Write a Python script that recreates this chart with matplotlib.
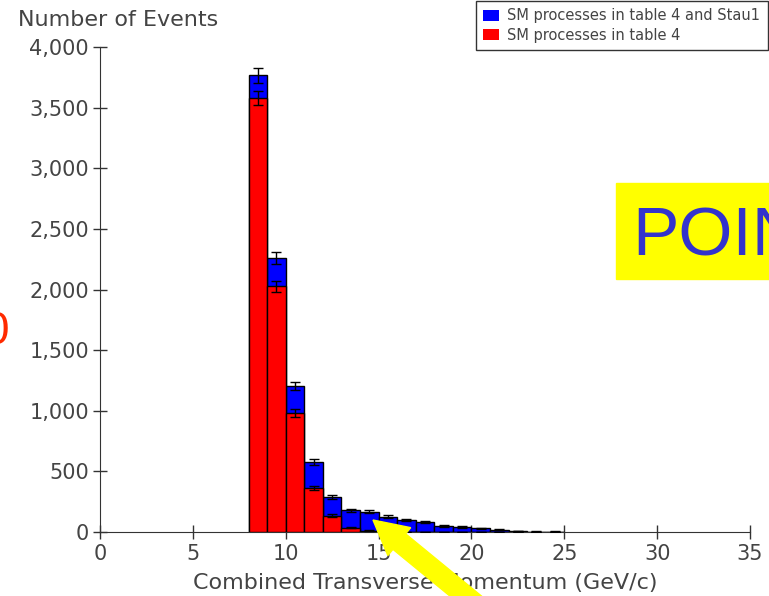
import numpy as np
import matplotlib.pyplot as plt
from matplotlib.patches import Rectangle, FancyArrow, Patch
from matplotlib.ticker import FuncFormatter
from matplotlib.transforms import IdentityTransform

# histogram bins (GeV/c), 1 GeV/c wide
bin_lo = [8, 9, 10, 11, 12, 13, 14, 15, 16, 17, 18, 19, 20, 21, 22, 23, 24]
sm_stau = [3765, 2258, 1205, 578, 291, 178, 166, 125, 99, 80, 52, 40, 30, 20, 8, 4, 3]
sm_only = [3580, 2025, 980, 362, 134, 36, 10, 2, 1, 1, 0, 0, 0, 0, 0, 0, 0]

label_stau = 'SM processes in table 4 and Stau1'
label_sm = 'SM processes in table 4'

W, H = 769, 596
fig = plt.figure(figsize=(W / 100, H / 100), dpi=100)
ax = fig.add_axes([100 / W, 1 - 532 / H, 650 / W, 485 / H])

txt = '#444444'
lo = np.array(bin_lo, dtype=float)
tot = np.array(sm_stau, dtype=float)
sm = np.array(sm_only, dtype=float)
mid = lo + 0.5

ax.bar(lo, tot, width=1, align='edge', color='#0000ff', edgecolor='black', linewidth=1, zorder=2)
ax.bar(lo, sm, width=1, align='edge', color='#ff0000', edgecolor='black', linewidth=1, zorder=3)
ax.errorbar(mid, tot, yerr=np.sqrt(tot), fmt='none', ecolor='black', elinewidth=1, capsize=3.5, zorder=4)
ax.errorbar(mid, sm, yerr=np.sqrt(sm), fmt='none', ecolor='black', elinewidth=1, capsize=3.5, zorder=4)

ax.set_xlim(0, 35)
ax.set_ylim(0, 4000)
ax.set_xticks(range(0, 36, 5))
ax.set_yticks(range(0, 4001, 500))
ax.yaxis.set_major_formatter(FuncFormatter(lambda v, p: f'{v:,.0f}'))
for s in ['top', 'right']:
    ax.spines[s].set_visible(False)
for s in ['left', 'bottom']:
    ax.spines[s].set_color('#333333')
ax.tick_params(direction='inout', length=10, width=1, color='#333333',
               labelsize=15, labelcolor=txt)
ax.tick_params(axis='x', pad=4)
ax.tick_params(axis='y', pad=3)
ax.set_xlabel('Combined Transverse Momentum (GeV/c)', fontsize=16, color=txt, labelpad=6)
fig.text(18 / W, 1 - 20 / H, 'Number of Events', fontsize=16, color=txt, va='center')

handles = [Patch(facecolor='#0000ff', edgecolor='none'), Patch(facecolor='#ff0000', edgecolor='none')]
leg = fig.legend(handles, [label_stau, label_sm], loc='upper left',
                 bbox_to_anchor=(476 / W, 1 - 1 / H), fontsize=10.5, frameon=True,
                 fancybox=False, borderaxespad=0, borderpad=0.5, labelspacing=0.3,
                 handlelength=1.1, handleheight=0.8, handletextpad=0.55)
leg.get_frame().set_edgecolor('black')
leg.get_frame().set_linewidth(1)
for t in leg.get_texts():
    t.set_color(txt)

# yellow callout on the right, cut at the figure edge
fig.add_artist(Rectangle((616 / W, 1 - 279 / H), 0.3, 96 / H,
                         transform=fig.transFigure, color='#ffff00', zorder=5))
fig.text(632 / W, 1 - 255 / H, 'POINT', fontsize=50, color='#3333cc',
         family='Liberation Sans', va='baseline', zorder=6)

# clipped red character on the left edge
fig.text(9 / W, 1 - 344 / H, '0', fontsize=33, color='#ff2a00',
         family='Liberation Sans', ha='right', va='baseline')

# yellow arrow pointing at the 14-15 GeV/c bin
fig.add_artist(FancyArrow(490, -20, -117, 96, width=20, head_width=36, head_length=34,
                          length_includes_head=True, color='#ffff00',
                          transform=IdentityTransform(), zorder=7))

fig.savefig('out.png', dpi=100)
